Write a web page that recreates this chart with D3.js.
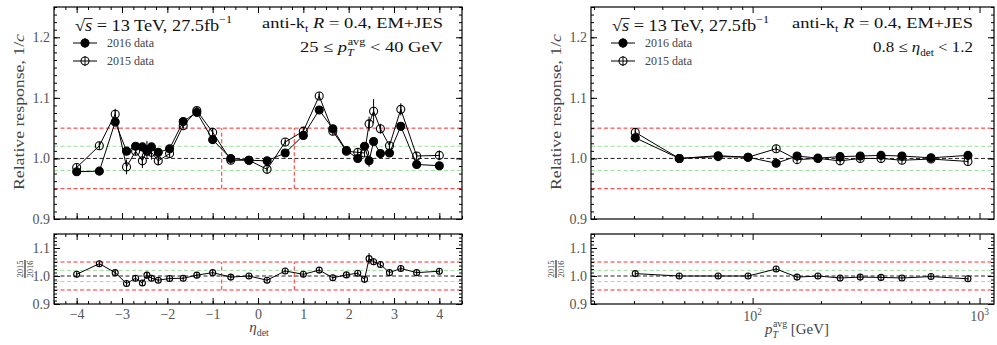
<!DOCTYPE html>
<html><head><meta charset="utf-8">
<script src="https://cdn.jsdelivr.net/npm/d3@7"></script>
<style>body{margin:0;background:#fff} svg{display:block} text{white-space:pre}</style>
</head><body>
<svg id="c" width="997" height="345"></svg>
<script>
// ---------------- DATA ----------------
const etaBins = [-4.0,-3.5,-3.15,-2.9,-2.7,-2.55,-2.45,-2.35,-2.2,-1.95,-1.65,-1.35,-1.0,-0.6,-0.2,0.2,0.6,1.0,1.35,1.65,1.95,2.2,2.35,2.45,2.55,2.7,2.9,3.15,3.5,4.0];
const eta2016 = [0.978,0.979,1.060,1.012,1.020,1.019,1.012,1.019,1.010,1.016,1.061,1.076,1.031,1.000,0.997,0.996,1.009,1.038,1.080,1.049,1.013,1.000,1.020,0.996,1.028,1.008,1.009,1.053,0.990,0.988];
const eta2016Err = [0.003,0.003,0.004,0.004,0.004,0.004,0.008,0.004,0.003,0.003,0.003,0.003,0.003,0.002,0.002,0.002,0.002,0.003,0.003,0.003,0.004,0.003,0.004,0.010,0.005,0.004,0.004,0.005,0.003,0.004];
const eta2015 = [0.985,1.021,1.073,0.986,1.012,0.996,1.014,1.010,0.996,1.008,1.054,1.079,1.043,0.997,0.997,0.982,1.027,1.045,1.103,1.045,1.012,1.010,1.009,1.057,1.078,1.049,1.021,1.081,1.004,1.005];
const eta2015Err = [0.004,0.004,0.009,0.012,0.006,0.012,0.015,0.012,0.006,0.004,0.004,0.005,0.006,0.003,0.003,0.003,0.003,0.003,0.004,0.004,0.005,0.004,0.006,0.012,0.020,0.008,0.006,0.010,0.004,0.008];
const etaRatio = [1.006,1.044,1.012,0.973,0.992,0.975,1.003,0.992,0.985,0.991,0.992,1.003,1.012,0.996,1.000,0.985,1.018,1.006,1.021,0.994,1.004,1.010,0.988,1.062,1.051,1.041,1.012,1.027,1.012,1.017];
const etaRatioErr = [0.004,0.008,0.006,0.008,0.006,0.010,0.012,0.010,0.005,0.004,0.003,0.004,0.004,0.003,0.003,0.003,0.003,0.004,0.004,0.003,0.004,0.004,0.006,0.020,0.012,0.008,0.006,0.008,0.004,0.006];

const ptBins = [30.4,47.5,70.5,95.5,127,157,194,243,298,368,455,611,889];
const pt2016 = [1.034,1.000,1.0045,1.002,0.992,1.004,1.0005,1.003,1.004,1.005,1.004,1.001,1.005];
const pt2016Err = [0.003,0.001,0.001,0.001,0.002,0.001,0.001,0.001,0.001,0.001,0.001,0.001,0.002];
const pt2015 = [1.043,1.000,1.003,1.002,1.016,0.998,1.000,0.996,1.000,1.000,0.997,0.999,0.995];
const pt2015Err = [0.004,0.002,0.002,0.002,0.003,0.002,0.002,0.002,0.002,0.002,0.002,0.002,0.003];
const ptRatio = [1.0085,1.000,1.000,1.000,1.025,0.996,1.000,0.993,0.996,0.995,0.993,0.998,0.990];
const ptRatioErr = [0.003,0.002,0.002,0.002,0.003,0.002,0.002,0.002,0.002,0.002,0.002,0.002,0.003];

const etaMajorTicks = [-4,-3,-2,-1,0,1,2,3,4];
const ptMajorTicks = [100,1000];
const ptMajorLabels = ["2","3"]; // exponents of 10
const yTopTicks = [0.9,1.0,1.1,1.2];
const yBotTicks = [0.9,1.0,1.1];
const refRed = [0.95,1.05], refGreen = [0.98,1.02], refBlack = [1.0];
const etaBox = [-0.8,0.8];
const legendLabels = ["2016 data","2015 data"];

// ---------------- SETUP ----------------
const svg = d3.select('#c');
const SERIF = "'Liberation Serif', 'DejaVu Serif', serif";

const yTop = d3.scaleLinear().domain([0.9,1.25]).range([219,7]);
const yBot = d3.scaleLinear().domain([0.9,1.15]).range([304,234]);
const xEta = d3.scaleLinear().domain([-4.5,4.5]).range([54,462]);
const xPt = d3.scaleLog().domain([19.4,1158]).range([591,994]);

function rangeStep(a,b,s){const r=[];for(let v=a;v<=b+1e-9;v+=s)r.push(+v.toFixed(6));return r;}
const yTopMinor = rangeStep(0.9,1.25,0.0125);
const yBotMinor = rangeStep(0.9,1.15,0.0125);
const etaMinor = rangeStep(-4.5,4.5,0.25);
const ptMinor = [20,30,40,50,60,70,80,90,200,300,400,500,600,700,800,900];

function styleAxis(sel){
  sel.selectAll('.domain').remove();
  sel.selectAll('line').attr('stroke','#000').attr('stroke-width',1);
  sel.selectAll('text').attr('font-family',SERIF).attr('font-size',14).attr('fill','#555');
  sel.attr('font-family',SERIF).attr('font-size',14);
}

function frame(x,y,xMaj,xMin,yMaj,yMin,showX,xFmt){
  const [X0,X1]=x.range(), [Y0,Y1]=y.range();
  const g = svg.append('g');
  const add=(tr,ax)=>{const s=g.append('g').attr('transform',tr).call(ax);styleAxis(s);return s;};
  add(`translate(0,${Y0})`, d3.axisBottom(x).tickValues(xMaj).tickSize(-6).tickSizeOuter(0).tickPadding(5).tickFormat(showX?xFmt:()=>''));
  add(`translate(0,${Y0})`, d3.axisBottom(x).tickValues(xMin).tickSize(-3).tickSizeOuter(0).tickFormat(()=>''));
  add(`translate(0,${Y1})`, d3.axisTop(x).tickValues(xMaj).tickSize(-6).tickSizeOuter(0).tickFormat(()=>''));
  add(`translate(0,${Y1})`, d3.axisTop(x).tickValues(xMin).tickSize(-3).tickSizeOuter(0).tickFormat(()=>''));
  add(`translate(${X0},0)`, d3.axisLeft(y).tickValues(yMaj).tickSize(-6).tickSizeOuter(0).tickPadding(4).tickFormat(d3.format('.1f')));
  add(`translate(${X0},0)`, d3.axisLeft(y).tickValues(yMin).tickSize(-3).tickSizeOuter(0).tickFormat(()=>''));
  add(`translate(${X1},0)`, d3.axisRight(y).tickValues(yMaj).tickSize(-6).tickSizeOuter(0).tickFormat(()=>''));
  add(`translate(${X1},0)`, d3.axisRight(y).tickValues(yMin).tickSize(-3).tickSizeOuter(0).tickFormat(()=>''));
  g.append('rect').attr('x',X0).attr('y',Y1).attr('width',X1-X0).attr('height',Y0-Y1)
    .attr('fill','none').attr('stroke','#000').attr('stroke-width',1.2);
  return g;
}

function refLines(x,y,box){
  const [X0,X1]=x.range();
  const g=svg.append('g');
  const h=(v,c)=>g.append('line').attr('x1',X0).attr('x2',X1).attr('y1',y(v)).attr('y2',y(v))
     .attr('stroke',c).attr('stroke-width',1).attr('stroke-dasharray','4,2.5');
  refGreen.forEach(v=>h(v,'#9fe09f'));
  refRed.forEach(v=>h(v,'#ff2a2a'));
  refBlack.forEach(v=>h(v,'#222'));
  if(box){
    box.forEach(b=>g.append('line').attr('x1',x(b)).attr('x2',x(b)).attr('y1',y(refRed[0])).attr('y2',y(refRed[1]))
      .attr('stroke','#ff2a2a').attr('stroke-width',1).attr('stroke-dasharray','4,2.5'));
  }
}

function series(x,y,xs,vals,errs,filled,r){
  const g=svg.append('g');
  const pts=xs.map((d,i)=>({x:d,v:vals[i],e:errs[i]}));
  g.append('path').datum(pts).attr('fill','none').attr('stroke','#000').attr('stroke-width',1)
    .attr('d',d3.line().x(d=>x(d.x)).y(d=>y(d.v)));
  g.selectAll('line.err').data(pts).join('line').attr('class','err')
    .attr('x1',d=>x(d.x)).attr('x2',d=>x(d.x)).attr('y1',d=>y(d.v-d.e)).attr('y2',d=>y(d.v+d.e))
    .attr('stroke','#000').attr('stroke-width',1);
  g.selectAll('circle').data(pts).join('circle').attr('cx',d=>x(d.x)).attr('cy',d=>y(d.v)).attr('r',r)
    .attr('fill',filled?'#000':'none').attr('stroke','#000').attr('stroke-width',1.1);
  if(!filled){
    g.selectAll('line.v').data(pts).join('line').attr('class','v')
      .attr('x1',d=>x(d.x)).attr('x2',d=>x(d.x)).attr('y1',d=>y(d.v)-r).attr('y2',d=>y(d.v)+r)
      .attr('stroke','#000').attr('stroke-width',1);
  }
}

function rich(x,y,parts,o){
  const fs=o.size;
  const t=svg.append('text').attr('x',x).attr('y',y).attr('text-anchor',o.anchor||'start')
    .attr('font-family',o.family||SERIF).attr('font-size',fs).attr('fill',o.color||'#111');
  if(o.len) t.attr('textLength',o.len).attr('lengthAdjust','spacingAndGlyphs');
  let shift=0, idx=0; const overs=[];
  parts.forEach(p=>{
    const s=p.sup?-0.5*fs:p.sub?0.24*fs:0;
    const ts=t.append('tspan').text(p.t).attr('dy',s-shift);
    if(p.dx)ts.attr('dx',p.dx);
    shift=s;
    if(p.sup||p.sub)ts.attr('font-size',fs*0.66);
    if(p.i)ts.attr('font-style','italic');
    if(p.over)overs.push([idx,p.t.length]);
    idx+=p.t.length;
  });
  overs.forEach(([i,n])=>{
    const node=t.node();
    const a=node.getExtentOfChar(i-1), b=node.getExtentOfChar(i+n-1);
    const yy=y-0.78*fs;
    svg.append('line').attr('x1',a.x+a.width-1).attr('x2',b.x+b.width+0.5).attr('y1',yy).attr('y2',yy)
      .attr('stroke',o.color||'#111').attr('stroke-width',0.9);
  });
  return t;
}

function legend(x,y){
  [[true,y],[false,y+18]].forEach(([filled,yy],i)=>{
    svg.append('line').attr('x1',x-12).attr('x2',x+12).attr('y1',yy).attr('y2',yy).attr('stroke','#000').attr('stroke-width',1);
    svg.append('line').attr('x1',x).attr('x2',x).attr('y1',yy-5).attr('y2',yy+5).attr('stroke','#000').attr('stroke-width',1);
    svg.append('circle').attr('cx',x).attr('cy',yy).attr('r',4).attr('fill',filled?'#000':'none').attr('stroke','#000').attr('stroke-width',1.1);
    svg.append('text').attr('x',x+22).attr('y',yy+4).attr('font-family',SERIF).attr('font-size',11.5).attr('fill','#444')
      .attr('textLength',47).attr('lengthAdjust','spacingAndGlyphs').text(legendLabels[i]);
  });
}

function ylabels(xFrame, yCenterTop, yCenterBot, fracX){
  const t=svg.append('text').attr('transform',`translate(${xFrame-30},${yCenterTop}) rotate(-90)`)
    .attr('text-anchor','middle').attr('font-family',SERIF).attr('font-size',15).attr('fill','#444')
    .attr('textLength',156).attr('lengthAdjust','spacingAndGlyphs');
  t.append('tspan').text('Relative response, 1/');
  t.append('tspan').text('c').attr('font-style','italic');
  const g=svg.append('g').attr('transform',`translate(${fracX},${yCenterBot}) rotate(-90)`);
  g.append('text').attr('x',0).attr('y',-2).attr('text-anchor','middle').attr('font-family',SERIF).attr('font-size',8.5).attr('fill','#444').text('2015');
  g.append('line').attr('x1',-9).attr('x2',9).attr('y1',0).attr('y2',0).attr('stroke','#000').attr('stroke-width',1);
  g.append('text').attr('x',0).attr('y',7.5).attr('text-anchor','middle').attr('font-family',SERIF).attr('font-size',8.5).attr('fill','#444').text('2016');
}

// ---------------- LEFT PANEL ----------------
refLines(xEta,yTop,etaBox);
refLines(xEta,yBot,etaBox);
series(xEta,yTop,etaBins,eta2016,eta2016Err,true,4);
series(xEta,yTop,etaBins,eta2015,eta2015Err,false,4);
series(xEta,yBot,etaBins,etaRatio,etaRatioErr,false,3);
frame(xEta,yTop,etaMajorTicks,etaMinor,yTopTicks,yTopMinor,false);
frame(xEta,yBot,etaMajorTicks,etaMinor,yBotTicks,yBotMinor,true,d3.format('d'));

// ---------------- RIGHT PANEL ----------------
refLines(xPt,yTop,null);
refLines(xPt,yBot,null);
series(xPt,yTop,ptBins,pt2016,pt2016Err,true,4);
series(xPt,yTop,ptBins,pt2015,pt2015Err,false,4);
series(xPt,yBot,ptBins,ptRatio,ptRatioErr,false,3);
frame(xPt,yTop,ptMajorTicks,ptMinor,yTopTicks,yTopMinor,false);
frame(xPt,yBot,ptMajorTicks,ptMinor,yBotTicks,yBotMinor,true,()=> '');
// 10^n labels
ptMajorTicks.forEach((v,i)=>{
  const t=svg.append('text').attr('x',xPt(v)).attr('y',yBot.range()[0]+17).attr('text-anchor','middle')
    .attr('font-family',SERIF).attr('font-size',14).attr('fill','#555');
  t.append('tspan').text('10');
  t.append('tspan').text(ptMajorLabels[i]).attr('font-size',9.5).attr('dy',-6);
});

// ---------------- TEXT ----------------
const sqrtParts=[{t:'√'},{t:'s',i:true,over:true},{t:' = 13 TeV, 27.5fb'},{t:'−1',sup:true}];
rich(75,31,sqrtParts,{size:16,len:157});
rich(612,31,sqrtParts,{size:16,len:157});
const jetParts=[{t:'anti-k'},{t:'t',sub:true},{t:' '},{t:'R',i:true},{t:' = 0.4, EM+JES'}];
rich(443,28,jetParts,{size:15,anchor:'end',len:181});
rich(973,28,jetParts,{size:15,anchor:'end',len:181});
rich(443,52,[{t:'25 ≤ '},{t:'p',i:true},{t:'T',i:true,sub:true},{t:'avg',sup:true,dx:-5},{t:' < 40 GeV'}],{size:15,anchor:'end',len:143});
rich(973,52,[{t:'0.8 ≤ '},{t:'η',i:true},{t:'det',sub:true},{t:' < 1.2'}],{size:15,anchor:'end',len:100});

legend(85,43);
legend(623,43);

ylabels(54,112,269,25);
ylabels(591,112,269,556);

// x labels
rich(259,332,[{t:'η',i:true},{t:'det',sub:true}],{size:15,anchor:'middle',color:'#444'});
rich(797,334,[{t:'p',i:true},{t:'T',i:true,sub:true},{t:'avg',sup:true,dx:-5},{t:' [GeV]'}],{size:15,anchor:'middle',color:'#444',len:64});
</script>
</body></html>
